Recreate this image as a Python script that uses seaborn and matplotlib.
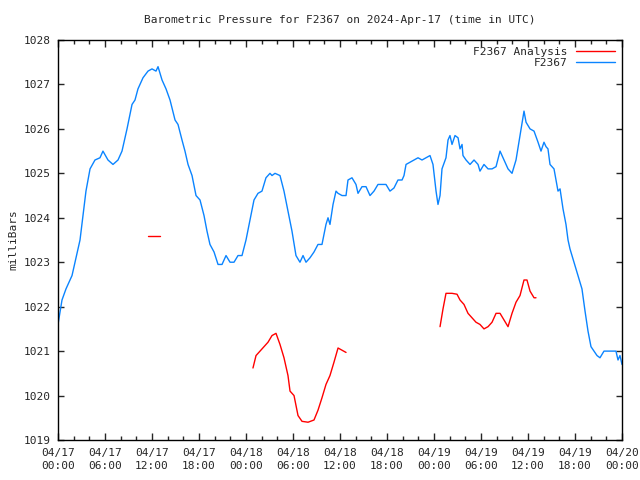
import pandas as pd
import seaborn as sns
import matplotlib.pyplot as plt
import numpy as np

# hours since 2024-04-17 00:00 UTC and pressure in mbar
obs_hours = [0.0, 0.51, 1.02, 1.79, 2.17, 2.81, 3.19, 3.57, 4.09, 4.72, 5.36, 5.74, 6.38, 7.02,
             7.66, 8.17, 8.81, 9.45, 9.83, 10.21, 10.85, 11.49, 12.0, 12.51, 12.77, 13.28, 13.79,
             14.30, 14.94, 15.32, 15.83, 16.21, 16.60, 17.11, 17.62, 18.13, 18.64, 19.02, 19.40,
             19.92, 20.43, 20.94, 21.45, 21.96, 22.47, 22.98, 23.49, 24.0, 24.51, 25.02, 25.53,
             26.04, 26.55, 27.06, 27.32, 27.70, 28.34, 28.85, 29.36, 29.87, 30.38, 30.89, 31.28,
             31.66, 32.17, 32.68, 33.19, 33.70, 34.21, 34.47, 34.72, 35.11, 35.49, 35.75, 36.26,
             36.77, 37.02, 37.53, 38.04, 38.30, 38.81, 39.32, 39.83, 40.34, 40.85, 41.36, 41.87,
             42.38, 42.89, 43.40, 43.92, 44.17, 44.43, 44.94, 45.45, 45.96, 46.47, 46.98, 47.49,
             47.87, 48.26, 48.51, 48.77, 49.02, 49.53, 49.79, 50.04, 50.30, 50.68, 51.07, 51.32,
             51.58, 51.70, 52.09, 52.60, 53.11, 53.62, 53.87, 54.38, 54.90, 55.41, 55.92, 56.43,
             56.94, 57.45, 57.96, 58.47, 58.98, 59.49, 59.75, 60.26, 60.77, 61.28, 61.66, 62.04,
             62.30, 62.55, 62.81, 63.32, 63.58, 63.83, 64.09, 64.47, 64.85, 65.11, 65.36, 65.87,
             66.38, 66.89, 67.28, 67.66, 68.04, 68.43, 68.81, 69.19, 69.70, 70.21, 70.72, 71.23,
             71.49, 71.74, 72.0]
obs_mbar = [1021.6, 1022.15, 1022.4, 1022.7, 1023.0, 1023.5, 1024.05, 1024.6, 1025.1, 1025.3,
            1025.35, 1025.5, 1025.3, 1025.2, 1025.3, 1025.5, 1026.0, 1026.55, 1026.65, 1026.9,
            1027.15, 1027.3, 1027.35, 1027.3, 1027.4, 1027.1, 1026.9, 1026.65, 1026.2, 1026.1,
            1025.75, 1025.5, 1025.2, 1024.95, 1024.5, 1024.4, 1024.05, 1023.7, 1023.4, 1023.23,
            1022.95, 1022.95, 1023.15, 1023.0, 1023.0, 1023.15, 1023.15, 1023.5, 1023.95, 1024.4,
            1024.55, 1024.6, 1024.9, 1025.0, 1024.95, 1025.0, 1024.95, 1024.6, 1024.15, 1023.7,
            1023.15, 1023.0, 1023.15, 1023.0, 1023.1, 1023.23, 1023.4, 1023.4, 1023.85, 1024.0,
            1023.85, 1024.3, 1024.6, 1024.55, 1024.5, 1024.5, 1024.85, 1024.9, 1024.75, 1024.55,
            1024.7, 1024.7, 1024.5, 1024.6, 1024.75, 1024.75, 1024.75, 1024.6, 1024.67, 1024.85,
            1024.85, 1024.95, 1025.2, 1025.25, 1025.3, 1025.35, 1025.3, 1025.35, 1025.4, 1025.2,
            1024.6, 1024.3, 1024.5, 1025.1, 1025.35, 1025.75, 1025.85, 1025.65, 1025.85, 1025.8,
            1025.55, 1025.65, 1025.4, 1025.3, 1025.2, 1025.3, 1025.2, 1025.05, 1025.2, 1025.1,
            1025.1, 1025.15, 1025.5, 1025.3, 1025.1, 1025.0, 1025.3, 1025.85, 1026.4, 1026.15,
            1026.0, 1025.95, 1025.7, 1025.5, 1025.7, 1025.6, 1025.55, 1025.2, 1025.1, 1024.85,
            1024.6, 1024.65, 1024.2, 1023.85, 1023.5, 1023.3, 1023.0, 1022.7, 1022.4, 1021.9,
            1021.45, 1021.1, 1021.0, 1020.9, 1020.85, 1021.0, 1021.0, 1021.0, 1021.0, 1020.8,
            1020.9, 1020.7]

# analysis comes in three separate pieces
ana1_hours = [11.5, 13.0]
ana1_mbar = [1023.6, 1023.6]
ana2_hours = [24.89, 25.28, 25.79, 26.30, 26.81, 27.32, 27.83, 28.34, 28.85, 29.36, 29.62, 30.13,
              30.64, 31.15, 31.92, 32.68, 33.19, 33.70, 34.21, 34.72, 35.23, 35.75, 36.26, 36.77]
ana2_mbar = [1020.62, 1020.9, 1021.0, 1021.1, 1021.2, 1021.35, 1021.4, 1021.15, 1020.85, 1020.45,
             1020.1, 1020.0, 1019.55, 1019.42, 1019.4, 1019.45, 1019.67, 1019.95, 1020.25, 1020.45,
             1020.75, 1021.07, 1021.02, 1020.97]
ana3_hours = [48.77, 49.15, 49.53, 50.30, 50.94, 51.32, 51.83, 52.34, 52.85, 53.36, 53.87, 54.38,
              54.90, 55.41, 55.92, 56.43, 56.94, 57.45, 57.96, 58.47, 58.98, 59.49, 59.87, 60.26,
              60.77, 61.02]
ana3_mbar = [1021.55, 1021.95, 1022.3, 1022.3, 1022.28, 1022.15, 1022.05, 1021.85, 1021.75, 1021.65,
             1021.6, 1021.5, 1021.55, 1021.65, 1021.85, 1021.85, 1021.7, 1021.55, 1021.85, 1022.1,
             1022.25, 1022.6, 1022.6, 1022.35, 1022.2, 1022.2]

tick_hours = list(range(0, 73, 6))
tick_labels = ['04/17\n00:00', '04/17\n06:00', '04/17\n12:00', '04/17\n18:00',
               '04/18\n00:00', '04/18\n06:00', '04/18\n12:00', '04/18\n18:00',
               '04/19\n00:00', '04/19\n06:00', '04/19\n12:00', '04/19\n18:00',
               '04/20\n00:00']

frames = [pd.DataFrame({'hour': obs_hours, 'mbar': obs_mbar, 'series': 'F2367', 'seg': 0})]
for i, (h, p) in enumerate([(ana1_hours, ana1_mbar), (ana2_hours, ana2_mbar), (ana3_hours, ana3_mbar)]):
    frames.append(pd.DataFrame({'hour': h, 'mbar': p, 'series': 'F2367 Analysis', 'seg': i + 1}))
df = pd.concat(frames, ignore_index=True)

sns.set_style('ticks')
plt.rcParams['font.family'] = ['DejaVu Sans Mono']
plt.rcParams['font.size'] = 8

fig = plt.figure(figsize=(6.4, 4.8), dpi=100)
ax = fig.add_axes([58 / 640, 40 / 480, 564 / 640, 400 / 480])

sns.lineplot(data=df, x='hour', y='mbar', hue='series', units='seg', estimator=None,
             hue_order=['F2367 Analysis', 'F2367'],
             palette={'F2367 Analysis': '#ff0000', 'F2367': '#0a84ff'},
             linewidth=1, sort=False, ax=ax)

ax.set_xlim(0, 72)
ax.set_ylim(1019, 1028)
ax.set_xticks(tick_hours)
ax.set_xticklabels(tick_labels, linespacing=1.35)
ax.set_xticks([h for h in range(2, 72, 2) if h % 6 != 0], minor=True)
ax.set_yticks(range(1019, 1029))
ax.tick_params(axis='x', which='major', direction='in', length=5, width=1, top=True, labelsize=8, pad=6)
ax.tick_params(axis='x', which='minor', direction='in', length=3, width=1, top=True)
ax.tick_params(axis='y', which='major', direction='in', length=4, width=1, right=True, labelsize=8, pad=5)
for s in ax.spines.values():
    s.set_linewidth(1)
    s.set_color('black')

ax.set_xlabel('')
ax.set_ylabel('milliBars', fontsize=8, labelpad=4)
ax.set_title('Barometric Pressure for F2367 on 2024-Apr-17 (time in UTC)', fontsize=8, pad=12)

handles, labels = ax.get_legend_handles_labels()
ax.legend(handles, labels, loc='upper right', frameon=False, markerfirst=False,
          fontsize=8, handlelength=3.5, borderaxespad=0.2, labelspacing=0.1)

fig.savefig('out.png', dpi=100)
